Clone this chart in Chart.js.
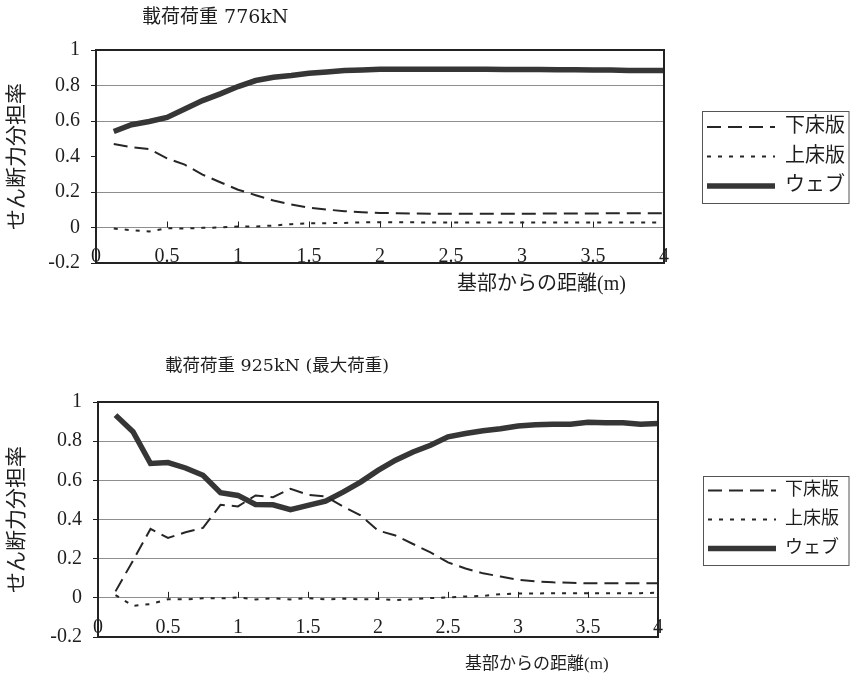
<!DOCTYPE html>
<html lang="ja">
<head>
<meta charset="utf-8">
<title>せん断力分担率</title>
<script src="https://cdn.jsdelivr.net/npm/chart.js@4.4.1/dist/chart.umd.min.js"></script>
<style>
  html, body { margin: 0; padding: 0; background: #fff; }
  #wrap { position: relative; width: 850px; height: 677px; overflow: hidden; }
  canvas { position: absolute; left: 0; }
  #c776 { top: 0; }
  #c925 { top: 340px; }
</style>
</head>
<body>
<div id="wrap">
  <canvas id="c776" width="850" height="340"></canvas>
  <canvas id="c925" width="850" height="337"></canvas>
</div>
<script>
// 基部からの距離 (m)
const DISTANCE = [
  0.125, 0.25, 0.375, 0.5, 0.625, 0.75, 0.875, 1.0,
  1.125, 1.25, 1.375, 1.5, 1.625, 1.75, 1.875, 2.0,
  2.125, 2.25, 2.375, 2.5, 2.625, 2.75, 2.875, 3.0,
  3.125, 3.25, 3.375, 3.5, 3.625, 3.75, 3.875, 4.0
];

const SERIES_NAMES = ['下床版', '上床版', 'ウェブ'];

// 載荷荷重 776kN
const LOWER_776 = [
  0.470, 0.453, 0.442, 0.390, 0.354, 0.298, 0.255, 0.213,
  0.182, 0.152, 0.129, 0.112, 0.101, 0.092, 0.086, 0.082,
  0.080, 0.079, 0.078, 0.078, 0.078, 0.078, 0.078, 0.078,
  0.078, 0.079, 0.079, 0.079, 0.080, 0.080, 0.080, 0.080
];
const UPPER_776 = [
  -0.006, -0.015, -0.022, -0.004, -0.006, -0.002, 0.000, 0.006,
  0.006, 0.011, 0.019, 0.024, 0.024, 0.026, 0.029, 0.030,
  0.029, 0.029, 0.028, 0.028, 0.028, 0.028, 0.028, 0.028,
  0.028, 0.028, 0.028, 0.028, 0.028, 0.028, 0.028, 0.028
];
const WEB_776 = [
  0.541, 0.579, 0.597, 0.620, 0.667, 0.715, 0.753, 0.794,
  0.828, 0.846, 0.856, 0.869, 0.876, 0.884, 0.888, 0.891,
  0.892, 0.892, 0.892, 0.891, 0.891, 0.891, 0.890, 0.890,
  0.890, 0.889, 0.889, 0.888, 0.887, 0.885, 0.884, 0.884
];

// 載荷荷重 925kN (最大荷重)
const LOWER_925 = [
  0.033, 0.190, 0.352, 0.306, 0.335, 0.357, 0.475, 0.467,
  0.523, 0.514, 0.557, 0.526, 0.518, 0.467, 0.421, 0.344,
  0.318, 0.275, 0.232, 0.181, 0.150, 0.125, 0.109, 0.092,
  0.084, 0.079, 0.077, 0.074, 0.074, 0.075, 0.075, 0.075
];
const UPPER_925 = [
  0.014, -0.041, -0.032, -0.007, -0.008, -0.002, -0.003, 0.002,
  -0.008, -0.002, -0.008, -0.002, -0.008, -0.004, -0.008, -0.006,
  -0.012, -0.007, -0.001, 0.002, 0.007, 0.010, 0.019, 0.022,
  0.022, 0.024, 0.024, 0.024, 0.024, 0.024, 0.024, 0.026
];
const WEB_925 = [
  0.933, 0.848, 0.686, 0.691, 0.663, 0.626, 0.537, 0.523,
  0.477, 0.475, 0.450, 0.472, 0.494, 0.540, 0.591, 0.651,
  0.703, 0.745, 0.779, 0.822, 0.839, 0.853, 0.863, 0.877,
  0.884, 0.887, 0.887, 0.896, 0.894, 0.894, 0.887, 0.890
];

// 軸の範囲と目盛ラベル
const X_MIN = 0, X_MAX = 4, X_STEP = 0.5;
const Y_MIN = -0.2, Y_MAX = 1, Y_STEP = 0.2;
const X_TICK_LABELS = ['0', '0.5', '1', '1.5', '2', '2.5', '3', '3.5', '4'];
const Y_TICK_LABELS = ['-0.2', '0', '0.2', '0.4', '0.6', '0.8', '1'];

const Y_TITLE = 'せん断力分担率';
const X_TITLE = '基部からの距離(m)';

const FONT = '"Liberation Serif", "Noto Sans CJK JP", serif';
const HEAD_FONT = '"DejaVu Serif", "Noto Sans CJK JP", serif';
const INK = '#1e1e1e';

// 枠線・ゼロ線の目盛・凡例枠・見出しを描くプラグイン
const paperPlugin = {
  id: 'paper',
  afterInit(chart, args, opts) {
    const lg = chart.legend;
    if (lg && opts.legendWidth) {
      const baseFit = lg.fit;
      lg.fit = function () { baseFit.call(this); this.width = opts.legendWidth; };
    }
  },
  beforeDatasetsDraw(chart) {
    const { ctx, scales: { x, y } } = chart;
    const y0 = y.getPixelForValue(0);
    ctx.save();
    ctx.strokeStyle = INK;
    ctx.lineWidth = 1;
    x.ticks.forEach(t => {
      if (t.value <= x.min || t.value >= x.max) return;
      const px = Math.round(x.getPixelForValue(t.value)) + 0.5;
      ctx.beginPath();
      ctx.moveTo(px, y0);
      ctx.lineTo(px, y0 - 6);
      ctx.stroke();
    });
    ctx.restore();
  },
  afterDraw(chart, args, opts) {
    const { ctx, chartArea: a } = chart;
    ctx.save();
    // plot frame
    ctx.strokeStyle = '#222';
    ctx.lineWidth = 2;
    ctx.strokeRect(a.left, a.top, a.right - a.left, a.bottom - a.top);

    // legend frame
    const hb = chart.legend && chart.legend.legendHitBoxes;
    if (hb && hb.length) {
      const first = hb[0], last = hb[hb.length - 1];
      const l = Math.round(first.left - 5) + 0.5;
      const t = Math.round(first.top - 6) + 0.5;
      const b = Math.round(last.top + last.height + 7) + 0.5;
      ctx.strokeStyle = '#555';
      ctx.lineWidth = 1;
      ctx.strokeRect(l, t, chart.width - 1 - l, b - t);
    }

    // chart heading and distance caption
    ctx.fillStyle = INK;
    ctx.textAlign = 'left';
    ctx.textBaseline = 'middle';
    ctx.font = opts.headingSize + 'px ' + HEAD_FONT;
    ctx.fillText(opts.heading, opts.headingX, opts.headingY);
    ctx.font = opts.captionSize + 'px ' + FONT;
    ctx.fillText(X_TITLE, opts.captionX, opts.captionY);
    ctx.restore();
  }
};

function points(values) {
  return DISTANCE.map((d, i) => ({ x: d, y: values[i] }));
}

// legend samples follow each dataset's own line width and dash
function lineLegendLabels(chart) {
  const items = Chart.defaults.plugins.legend.labels.generateLabels(chart);
  items.forEach(it => {
    const ds = chart.data.datasets[it.datasetIndex];
    it.lineDash = ds.borderDash || [];
    it.lineWidth = ds.borderWidth;
    it.strokeStyle = ds.borderColor;
  });
  return items;
}

function makeChart(canvasId, lower, upper, web, s) {
  return new Chart(document.getElementById(canvasId), {
    type: 'line',
    data: {
      datasets: [
        {
          label: SERIES_NAMES[0], data: points(lower),
          borderColor: '#262626', borderWidth: 2, borderDash: [14, 7],
          pointRadius: 0, tension: 0, fill: false
        },
        {
          label: SERIES_NAMES[1], data: points(upper),
          borderColor: '#262626', borderWidth: 2, borderDash: [4, 7],
          pointRadius: 0, tension: 0, fill: false
        },
        {
          label: SERIES_NAMES[2], data: points(web),
          borderColor: '#363636', borderWidth: 5.5,
          pointRadius: 0, tension: 0, fill: false
        }
      ]
    },
    options: {
      responsive: false,
      animation: false,
      devicePixelRatio: 1,
      layout: { padding: { top: s.padTop, left: 0, right: 0, bottom: 0 } },
      scales: {
        x: {
          type: 'linear', position: 'bottom', min: X_MIN, max: X_MAX,
          grid: { display: false, drawTicks: false },
          border: { display: false },
          ticks: {
            stepSize: X_STEP, mirror: true, padding: s.xTickPad, maxRotation: 0, autoSkip: false,
            color: INK, font: { family: FONT, size: 20 },
            callback: (v, i) => X_TICK_LABELS[i]
          },
          afterFit(scale) { scale.height = s.xAxisHeight; }
        },
        y: {
          type: 'linear', position: 'left', min: Y_MIN, max: Y_MAX,
          grid: {
            color(c) {
              const v = c.tick ? c.tick.value : NaN;
              if (s.hiddenGrid.some(h => Math.abs(h - v) < 1e-6)) return 'rgba(0,0,0,0)';
              return '#8e8e8e';
            },
            lineWidth: 1, drawTicks: true, tickLength: 5, tickColor: INK, tickWidth: 1
          },
          border: { display: false },
          ticks: {
            stepSize: Y_STEP, padding: 11, color: INK, font: { family: FONT, size: 20 },
            callback: (v, i) => Y_TICK_LABELS[i]
          },
          title: {
            display: true, text: Y_TITLE, color: INK,
            font: { family: FONT, size: 21 }, padding: { top: 5, bottom: 0 }
          },
          afterFit(scale) { scale.width = s.yAxisWidth; }
        },
        gap: {
          type: 'linear', position: 'right', display: true,
          grid: { display: false, drawTicks: false },
          border: { display: false },
          ticks: { display: false },
          afterFit(scale) { scale.width = s.gap; }
        }
      },
      plugins: {
        title: { display: false },
        tooltip: { enabled: false },
        legend: {
          display: true, position: 'right', align: 'center', fullSize: false,
          labels: {
            usePointStyle: true, pointStyle: 'line', pointStyleWidth: 68,
            padding: s.legendPad, color: INK,
            font: { family: FONT, size: s.legendFont },
            generateLabels: lineLegendLabels
          }
        },
        paper: {
          legendWidth: s.legendWidth,
          heading: s.heading, headingX: s.headingX, headingY: s.headingY, headingSize: s.headingSize,
          captionX: s.captionX, captionY: s.captionY, captionSize: s.captionSize
        }
      }
    },
    plugins: [paperPlugin]
  });
}

makeChart('c776', LOWER_776, UPPER_776, WEB_776, {
  heading: '載荷荷重 776kN', headingX: 142, headingY: 18, headingSize: 19,
  captionX: 457, captionY: 285, captionSize: 20,
  padTop: 50, yAxisWidth: 96, xAxisHeight: 77, xTickPad: -6,
  gap: 33.5, legendWidth: 152.5, legendPad: 9.5, legendFont: 20,
  hiddenGrid: [0.4]
});

makeChart('c925', LOWER_925, UPPER_925, WEB_925, {
  heading: '載荷荷重 925kN (最大荷重)', headingX: 165, headingY: 26, headingSize: 17.5,
  captionX: 465, captionY: 325, captionSize: 17,
  padTop: 62, yAxisWidth: 98, xAxisHeight: 40, xTickPad: -3,
  gap: 39, legendWidth: 153, legendPad: 11, legendFont: 18,
  hiddenGrid: []
});
</script>
</body>
</html>
